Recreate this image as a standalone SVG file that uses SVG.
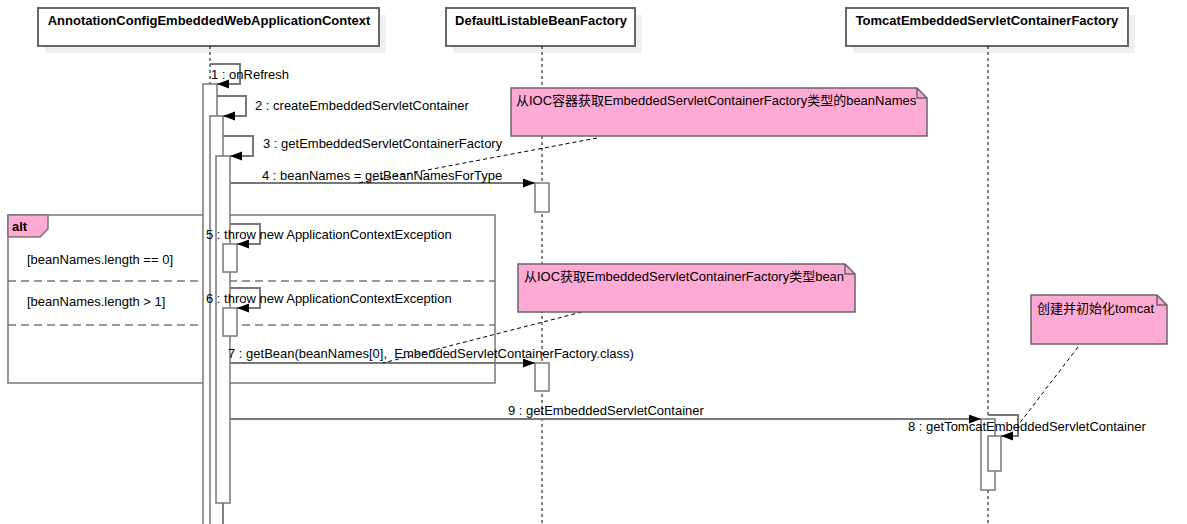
<svg xmlns="http://www.w3.org/2000/svg" width="1187" height="524" viewBox="0 0 1187 524">
<defs>
<marker id="ah" markerUnits="userSpaceOnUse" markerWidth="13" markerHeight="10" refX="12" refY="4.5" orient="auto">
<path d="M0,0 L12,4.5 L0,9 z" fill="#000"/>
</marker>
<style>
.hd{fill:#fff;stroke:#666;stroke-width:2}
.sh{fill:#efefef}
.ht{font-family:"Liberation Sans",Arial,sans-serif;font-size:13px;font-weight:bold;fill:#000;text-anchor:middle}
.t{font-family:"Liberation Sans","Noto Sans CJK SC",sans-serif;font-size:13px;fill:#000;white-space:pre}
.ll{stroke:#000;stroke-width:1;stroke-dasharray:3,3;fill:none}
.bar{fill:#fff;stroke:#777;stroke-width:1.5}
.msg{stroke:#777;stroke-width:2;fill:none;marker-end:url(#ah)}
.note{fill:#ffaad4;stroke:#666;stroke-width:1.5}
.nl{stroke:#000;stroke-width:1;stroke-dasharray:4,3;fill:none}
.fr{fill:none;stroke:#777;stroke-width:1.5}
.sep{stroke:#777;stroke-width:1.5;stroke-dasharray:8,5;fill:none}
</style>
</defs>
<rect width="1187" height="524" fill="#fff"/>

<g id="alt-frame">
<rect class="fr" x="8" y="215" width="487" height="168"/>
<path d="M8,215 H48 V229 L40,237 H8 Z" fill="#ffaad4" stroke="#777" stroke-width="1.5"/>
<text class="t" x="12" y="231" font-weight="bold">alt</text>
<text class="t" x="27" y="264">[beanNames.length == 0]</text>
<line class="sep" x1="8" y1="281" x2="495" y2="281"/>
<text class="t" x="27" y="306">[beanNames.length &gt; 1]</text>
<line class="sep" x1="8" y1="325" x2="495" y2="325"/>
</g>

<g id="lifeline-context">
<rect class="sh" x="45" y="15" width="341" height="38"/>
<rect class="hd" x="38" y="8" width="341" height="38"/>
<text class="ht" x="209" y="25">AnnotationConfigEmbeddedWebApplicationContext</text>
<line class="ll" x1="210" y1="46" x2="210" y2="524"/>
</g>

<g id="lifeline-beanfactory">
<rect class="sh" x="453" y="15" width="189" height="38"/>
<rect class="hd" x="446" y="8" width="189" height="38"/>
<text class="ht" x="541" y="25">DefaultListableBeanFactory</text>
<line class="ll" x1="542" y1="46" x2="542" y2="524"/>
</g>

<g id="lifeline-tomcat">
<rect class="sh" x="853" y="15" width="282" height="38"/>
<rect class="hd" x="846" y="8" width="282" height="38"/>
<text class="ht" x="987" y="25">TomcatEmbeddedServletContainerFactory</text>
<line class="ll" x1="988" y1="46" x2="988" y2="524"/>
</g>

<g id="activations">
<rect class="bar" x="203" y="84" width="14" height="450"/>
<rect class="bar" x="210" y="116" width="13" height="420"/>
<rect class="bar" x="216" y="156" width="14" height="347"/>
<line x1="223" y1="503" x2="223" y2="524" stroke="#777" stroke-width="1.5"/>
<rect class="bar" x="223" y="244" width="14" height="28"/>
<rect class="bar" x="223" y="308" width="14" height="28"/>
<rect class="bar" x="535" y="183" width="14" height="29"/>
<rect class="bar" x="535" y="363" width="14" height="28"/>
<rect class="bar" x="981" y="419" width="14" height="71"/>
<rect class="bar" x="988" y="436" width="13" height="35"/>
</g>

<g id="connectors">
<path class="msg" d="M210,64 H240 V84 H217"/>
<path class="msg" d="M217,96 H246 V116 H223"/>
<path class="msg" d="M223,136 H253 V156 H230"/>
<path class="msg" d="M230,183 H535"/>
<path class="msg" d="M230,224 H260 V244 H237"/>
<path class="msg" d="M230,288 H260 V308 H237"/>
<path class="msg" d="M230,363 H535"/>
<path class="msg" d="M230,419 H981"/>
<path class="msg" d="M988,415 H1018 V436 H1001"/>
<line class="nl" x1="597" y1="138" x2="358" y2="183"/>
<line class="nl" x1="582" y1="312" x2="383" y2="363"/>
<line class="nl" x1="1078" y1="347" x2="1019" y2="424" stroke-dasharray="2,2"/>
</g>

<g id="message-labels">
<text class="t" x="211" y="79">1 : onRefresh</text>
<text class="t" x="255" y="110">2 : createEmbeddedServletContainer</text>
<text class="t" x="263" y="148">3 : getEmbeddedServletContainerFactory</text>
<text class="t" x="262" y="180">4 : beanNames = getBeanNamesForType</text>
<text class="t" x="206" y="239">5 : throw new ApplicationContextException</text>
<text class="t" x="206" y="303">6 : throw new ApplicationContextException</text>
<text class="t" x="228" y="358">7 : getBean(beanNames[0],  EmbeddedServletContainerFactory.class)</text>
<text class="t" x="508" y="415">9 : getEmbeddedServletContainer</text>
<text class="t" x="908" y="431">8 : getTomcatEmbeddedServletContainer</text>
</g>

<g id="note-beannames">
<path class="note" d="M511,88 H917 L927,98 V136 H511 Z"/>
<path d="M917,88 V98 H927" fill="none" stroke="#666" stroke-width="1.5"/>
<text class="t" x="516" y="105">从IOC容器获取EmbeddedServletContainerFactory类型的beanNames</text>
</g>

<g id="note-bean">
<path class="note" d="M518,264 H845 L855,274 V312 H518 Z"/>
<path d="M845,264 V274 H855" fill="none" stroke="#666" stroke-width="1.5"/>
<text class="t" x="524" y="281">从IOC获取EmbeddedServletContainerFactory类型bean</text>
</g>

<g id="note-tomcat">
<path class="note" d="M1031,295 H1157 L1167,305 V344 H1031 Z"/>
<path d="M1157,295 V305 H1167" fill="none" stroke="#666" stroke-width="1.5"/>
<text class="t" x="1037" y="313">创建并初始化tomcat</text>
</g>
</svg>
